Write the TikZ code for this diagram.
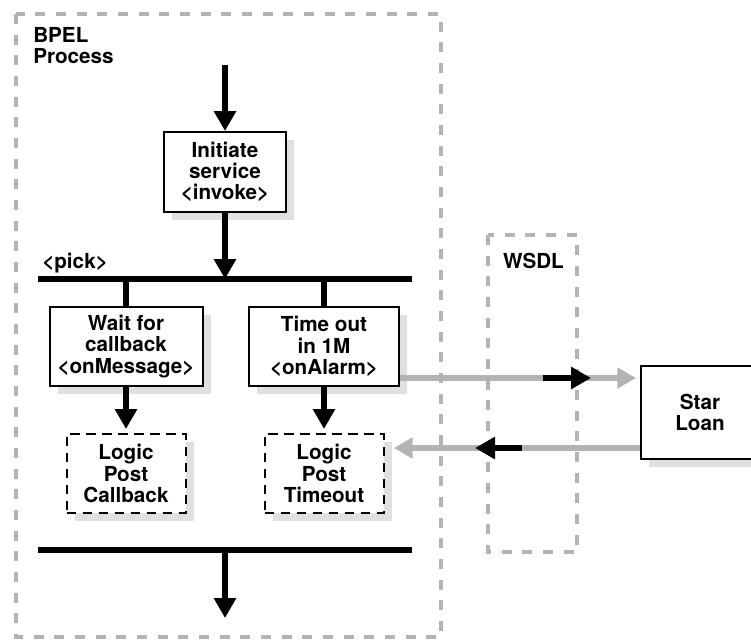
\documentclass[tikz,border=0pt]{standalone}
\usepackage{fontspec}
\setmainfont{TeX Gyre Heros}
\usetikzlibrary{
  arrows.meta,
  positioning,
  shadows
}
\definecolor{bpelgray}{HTML}{B3B3B3}
\definecolor{bpelshade}{HTML}{E0E0E0}

\begin{document}
\begin{tikzpicture}[x=0.75pt, y=-0.75pt,
      box/.style={
        rectangle, draw=black, line width=1.5pt, fill=white,
        inner sep=2pt, align=center,
        font=\fontsize{15.5}{16}\selectfont\bfseries,
        drop shadow={shadow xshift=6pt, shadow yshift=-6pt, fill=bpelshade, opacity=1}
      },
      dashbox/.style={box, dash pattern=on 7pt off 5pt},
      region/.style={draw=bpelgray, line width=3.2pt, dash pattern=on 7.5pt off 8pt},
      bar/.style={line width=4pt},
      arrow/.style={-{Triangle[length=15pt, width=16pt]}, line width=4pt},
      grayarrow/.style={-{Triangle[length=14pt, width=15pt]}, line width=4pt, bpelgray},
      label/.style={inner sep=0pt, align=left, font=\fontsize{15.5}{16}\selectfont\bfseries}
    ]
      \useasboundingbox (0,0) rectangle (751,640);

      % dashed regions
      \draw[region] (16,14) rectangle (441,637);
      \draw[region] (488,235) rectangle (577,552);
      \node[label, anchor=north west] (bpel) at (33,27) {BPEL\\Process};
      \node[label, anchor=base] (wsdl) at (533.5,268) {WSDL};

      \coordinate (entry) at (225,65);
      \node[box, minimum width=91.5pt, minimum height=60pt] (init) at (225,172) {Initiate\\service\\<invoke>};

      % pick
      \coordinate (pickL) at (38,279);
      \coordinate (pickR) at (412,279);
      \node[label, anchor=base west] (pick) at (42,268) {<pick>};
      \node[box, minimum width=114.75pt, minimum height=59.25pt] (wait) at (126,346.5) {Wait for\\callback\\<onMessage>};
      \node[box, minimum width=112.5pt, minimum height=59.25pt] (timeout) at (324,346.5) {Time out\\in 1M\\<onAlarm>};
      \node[dashbox, minimum width=89.25pt, minimum height=59.25pt, below=34.5pt of wait] (postcb) {Logic\\Post\\Callback};
      \node[dashbox, minimum width=89.25pt, minimum height=59.25pt, below=34.5pt of timeout] (postto) {Logic\\Post\\Timeout};

      \coordinate (joinL) at (38,550);
      \coordinate (joinR) at (412,550);
      \coordinate (exit) at (225,618);

      \node[box, minimum width=88.5pt, minimum height=69.75pt] (star) at (700,412.5) {Star\\Loan};

      \draw[arrow] (entry) -- (init);
      \draw[arrow] (init) -- (init |- pickL);
      \draw[bar] (pickL) -- (pickR);
      \draw[bar] (wait.north |- pickL) -- (wait.north);
      \draw[bar] (timeout.north |- pickL) -- (timeout.north);
      \draw[arrow, shorten >=3pt] (wait) -- (postcb);
      \draw[arrow, shorten >=3pt] (timeout) -- (postto);
      \draw[bar] (joinL) -- (joinR);
      \draw[arrow] (exit |- joinL) -- (exit);

      % messages to and from Star Loan
      \coordinate (callY) at (0,378);
      \coordinate (backY) at (0,448);
      \coordinate (reqA) at (543,378);
      \coordinate (reqB) at (591,378);
      \coordinate (resA) at (522,448);
      \coordinate (resB) at (475,448);
      \draw[grayarrow, shorten >=3pt] (timeout.east |- callY) -- (star.west |- callY);
      \draw[arrow] (reqA) -- (reqB);
      \draw[grayarrow, shorten >=7pt] (star.west |- backY) -- (postto.east |- backY);
      \draw[arrow] (resA) -- (resB);
    \end{tikzpicture}
\end{document}
